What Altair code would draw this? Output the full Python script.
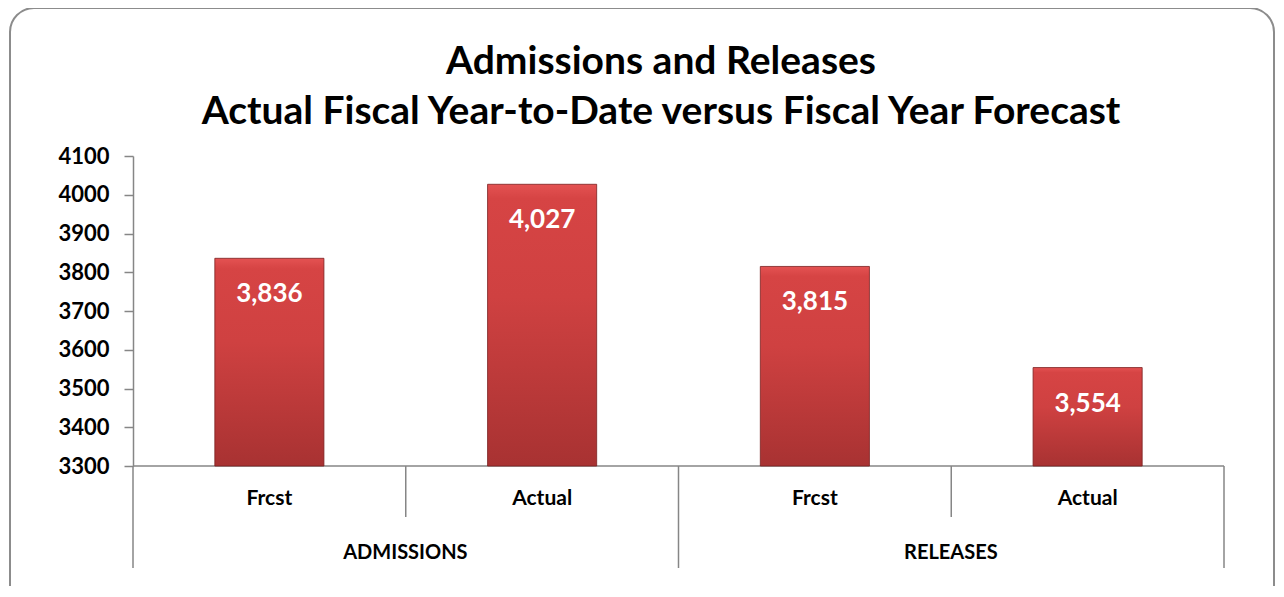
import altair as alt
import pandas as pd

groups = ["ADMISSIONS", "ADMISSIONS", "RELEASES", "RELEASES"]
subs = ["Frcst", "Actual", "Frcst", "Actual"]
values = [3836, 4027, 3815, 3554]
y_ticks = [3300, 3400, 3500, 3600, 3700, 3800, 3900, 4000, 4100]
title_lines = ["Admissions and Releases",
               "Actual Fiscal Year-to-Date versus Fiscal Year Forecast"]

df = pd.DataFrame({"group": groups, "sub": subs, "value": values})
df["key"] = df["group"] + "|" + df["sub"]
df["label"] = df["value"].map(lambda v: f"{v:,}")
keys = list(df["key"])

grp_df = df.drop_duplicates("group")[["group", "key"]]

# category boundary indices for separator lines
long_seps = pd.DataFrame({"pos": [0, 2, 4]})
short_seps = pd.DataFrame({"pos": [1, 3]})
baseline_df = pd.DataFrame({"a": [0], "b": [4]})

W, H = 1091, 310
FONT = "Lato"
GRAY = "#868686"

def xband(axis):
    return alt.X("key:N", sort=keys,
                 scale=alt.Scale(domain=keys, paddingInner=0.6, paddingOuter=0.3),
                 axis=axis)

x_axis = alt.Axis(title=None, labelExpr="split(datum.label, '|')[1]",
                  domain=False, ticks=False, labelFontSize=21, labelFont=FONT,
                  labelFontWeight="bold", labelColor="black", labelPadding=21,
                  labelAngle=0)

y_axis = alt.Axis(title=None, values=y_ticks, grid=False, format="d",
                  labelOverlap=False,
                  domainColor=GRAY, tickColor=GRAY, tickSize=9,
                  domainWidth=1.5, tickWidth=1.5,
                  labelFontSize=22, labelFont=FONT,
                  labelFontWeight="bold", labelColor="black",
                  labelPadding=15)
y_scale = alt.Scale(domain=[3300, 4100], zero=False, nice=False)
y = alt.Y("value:Q", scale=y_scale, axis=y_axis)

grad = alt.Gradient(gradient="linear", x1=0, y1=0, x2=0, y2=1,
                    stops=[alt.GradientStop(color="#e45252", offset=0),
                           alt.GradientStop(color="#d64444", offset=0.05),
                           alt.GradientStop(color="#cf4141", offset=0.4),
                           alt.GradientStop(color="#a83232", offset=1)])

bars = alt.Chart(df).mark_bar(color=grad, stroke="#7a2020",
                              strokeWidth=0.8).encode(
    x=xband(x_axis), y=y, y2=alt.datum(3300))

labels = alt.Chart(df).mark_text(color="white", fontSize=26, font=FONT,
                                 fontWeight="bold", baseline="middle",
                                 dy=36).encode(
    x=xband(None), y=y, text="label:N")

grp_labels = alt.Chart(grp_df).mark_text(color="black", fontSize=20, font=FONT,
                                         fontWeight="bold", baseline="middle",
                                         dx=136).encode(
    x=xband(None), y=alt.value(397), text="group:N")

xq = alt.Scale(domain=[0, 4])
long_rules = alt.Chart(long_seps).mark_rule(color=GRAY, strokeWidth=1.5).encode(
    x=alt.X("pos:Q", scale=xq, axis=None), y=alt.value(H), y2=alt.value(412))
short_rules = alt.Chart(short_seps).mark_rule(color=GRAY, strokeWidth=1.5).encode(
    x=alt.X("pos:Q", scale=xq, axis=None), y=alt.value(H), y2=alt.value(361))
base_rule = alt.Chart(baseline_df).mark_rule(color=GRAY, strokeWidth=1.5).encode(
    x=alt.X("a:Q", scale=xq, axis=None), x2="b:Q", y=alt.value(H))

border = alt.Chart(pd.DataFrame({"a": [0]})).mark_rect(
    fill="white", fillOpacity=0, stroke="#8c8c8c", strokeWidth=2,
    cornerRadius=24).encode(
    x=alt.value(-123), x2=alt.value(1141), y=alt.value(-148), y2=alt.value(470))

title_df = pd.DataFrame({"text": ["\n".join(title_lines)]})
title = alt.Chart(title_df).mark_text(
    fontSize=39, font=FONT, fontWeight="bold", color="black",
    baseline="middle", align="center", lineBreak="\n", lineHeight=50).encode(
    x=alt.value(528), y=alt.value(-94), text="text:N")

chart = alt.layer(
    border, title, long_rules, short_rules, base_rule, bars, labels, grp_labels
).resolve_scale(x="independent").properties(
    width=W, height=H,
    autosize=alt.AutoSizeParams(type="none"),
    padding={"left": 125, "top": 148, "right": 52, "bottom": 120},
).configure(background="white").configure_view(stroke=None)

chart.save("out.html", embed_options={"renderer": "svg", "actions": False})
